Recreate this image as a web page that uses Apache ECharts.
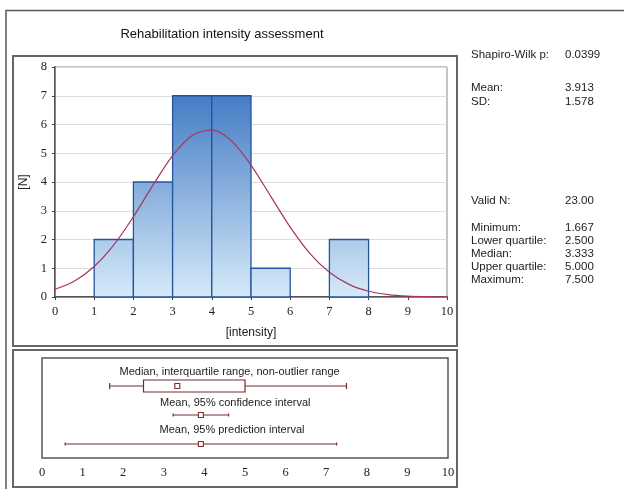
<!DOCTYPE html>
<html>
<head>
<meta charset="utf-8">
<title>Rehabilitation intensity assessment</title>
<script src="https://cdn.jsdelivr.net/npm/echarts@6/dist/echarts.min.js"></script>
<style>
  html, body { margin: 0; padding: 0; background: #fff; }
  #chart { width: 624px; height: 489px; }
</style>
</head>
<body>
<div id="chart"></div>
<script>
// Histogram bins (lower edge, width 1) and their frequencies
const binStarts = [1, 2, 3, 4, 5, 6, 7];
const binCounts = [2, 4, 7, 7, 1, 0, 2];
const binWidth = 1;

// Fitted normal curve, expected frequency per bin
const curveX = [0, 0.5, 1, 1.5, 2, 2.5, 3, 3.5, 4, 4.5, 5, 5.5, 6, 6.5, 7, 7.5, 8, 8.5, 9, 9.5, 10];
const curveY = [0.27, 0.56, 1.06, 1.81, 2.79, 3.89, 4.92, 5.62, 5.81, 5.43, 4.59, 3.51, 2.43, 1.52, 0.86, 0.44, 0.20, 0.085, 0.032, 0.011, 0.003];

// Box summary: min, lower quartile, median, upper quartile, max
const boxSummary = [1.667, 2.5, 3.333, 5.0, 7.5];
// Mean with 95% confidence interval: low, mean, high
const meanConfidence = [3.231, 3.913, 4.595];
// Mean with 95% prediction interval: low, mean, high
const meanPrediction = [0.570, 3.913, 7.256];

// Descriptive statistics panel
const statLabels = ['Shapiro-Wilk p:', 'Mean:', 'SD:', 'Valid N:', 'Minimum:', 'Lower quartile:', 'Median:', 'Upper quartile:', 'Maximum:'];
const statValues = ['0.0399', '3.913', '1.578', '23.00', '1.667', '2.500', '3.333', '5.000', '7.500'];

const rowLabels = ['Median, interquartile range, non-outlier range', 'Mean, 95% confidence interval', 'Mean, 95% prediction interval'];

const SANS = '"Liberation Sans", Arial, sans-serif';
const SERIF = '"Liberation Serif", "Times New Roman", serif';
const BOX_COLOR = '#7a2b2e';

const chart = echarts.init(document.getElementById('chart'), null, { renderer: 'canvas' });

function lerp(a, b, t) { return Math.round(a + (b - a) * t); }
function shade(t) {
  const lo = [214, 234, 249], hi = [68, 124, 196];
  return 'rgb(' + lerp(lo[0], hi[0], t) + ',' + lerp(lo[1], hi[1], t) + ',' + lerp(lo[2], hi[2], t) + ')';
}

const histData = binStarts.map((s, i) => [s, s + binWidth, binCounts[i]]);

// row layout on the hidden vertical axis of the summary panel (0 top .. 100 bottom)
const ROW_Y = [28, 57, 86];
const LABEL_Y = [14, 45, 72];
const LABEL_X = [4.62, 4.76, 4.68];

const statY = [56, 89, 103, 202, 229, 242, 255, 268, 281];
const statGraphics = [];
statLabels.forEach((t, i) => {
  statGraphics.push({ type: 'text', left: 471, top: statY[i] - 7, style: { text: t, font: '11.5px ' + SANS, fill: '#222' } });
  statGraphics.push({ type: 'text', left: 565, top: statY[i] - 7, style: { text: statValues[i], font: '11.5px ' + SANS, fill: '#222' } });
});

const option = {
  animation: false,
  backgroundColor: '#fff',
  title: {
    text: 'Rehabilitation intensity assessment',
    left: 217, top: 23, textAlign: 'center',
    textStyle: { fontFamily: SANS, fontSize: 13, fontWeight: 'normal', color: '#111' }
  },
  graphic: [
    // outer frame
    { type: 'polyline', shape: { points: [[6, 489], [6, 10.5], [624, 10.5]] }, style: { stroke: '#555', lineWidth: 1.5, fill: null }, silent: true },
    // histogram panel
    { type: 'rect', shape: { x: 13, y: 56, width: 444, height: 290 }, style: { stroke: '#666', lineWidth: 2, fill: null }, silent: true },
    // summary panel
    { type: 'rect', shape: { x: 13, y: 350, width: 444, height: 137 }, style: { stroke: '#666', lineWidth: 2, fill: null }, silent: true }
  ].concat(statGraphics),
  grid: [
    { left: 55, top: 67, width: 392, height: 230, show: true, borderColor: '#888', borderWidth: 1 },
    { left: 42, top: 358, width: 406, height: 100, show: true, borderColor: '#555', borderWidth: 1.5 }
  ],
  xAxis: [
    {
      gridIndex: 0, type: 'value', min: 0, max: 10, interval: 1,
      name: '[intensity]', nameLocation: 'middle', nameGap: 30,
      nameTextStyle: { fontFamily: SANS, fontSize: 12, color: '#222' },
      axisLine: { show: true, lineStyle: { color: '#555', width: 2 } },
      axisTick: { show: false },
      axisLabel: { fontFamily: SERIF, fontSize: 12.5, color: '#222', margin: 8 },
      splitLine: { show: false }
    },
    {
      gridIndex: 0, type: 'value', min: 0, max: 10, interval: 1, position: 'top',
      axisLine: { show: true, lineStyle: { color: '#888', width: 1 } },
      axisTick: { show: true, inside: true, length: 3, lineStyle: { color: '#444' } },
      axisLabel: { show: false }, splitLine: { show: false }
    },
    {
      gridIndex: 1, type: 'value', min: 0, max: 10, interval: 1,
      axisLine: { show: false }, axisTick: { show: false },
      axisLabel: { fontFamily: SERIF, fontSize: 12.5, color: '#222', margin: 8 },
      splitLine: { show: false }
    }
  ],
  yAxis: [
    {
      gridIndex: 0, type: 'value', min: 0, max: 8, interval: 1,
      name: '[N]', nameLocation: 'middle', nameGap: 22, nameRotate: 90,
      nameTextStyle: { fontFamily: SANS, fontSize: 12, color: '#222' },
      axisLine: { show: true, lineStyle: { color: '#555', width: 2 } },
      axisTick: { show: true, length: 3, lineStyle: { color: '#555' } },
      axisLabel: { fontFamily: SERIF, fontSize: 12.5, color: '#222', margin: 8 },
      splitLine: { show: true, lineStyle: { color: '#dcdcdc', width: 1 } }
    },
    {
      gridIndex: 0, type: 'value', min: 0, max: 8, interval: 1, position: 'right',
      axisLine: { show: true, lineStyle: { color: '#888', width: 1 } },
      axisTick: { show: true, inside: true, length: 3, lineStyle: { color: '#444' } },
      axisLabel: { show: false }, splitLine: { show: false }
    },
    {
      gridIndex: 1, type: 'value', min: 0, max: 100, inverse: true, show: false
    }
  ],
  series: [
    {
      type: 'custom', name: 'Frequency', xAxisIndex: 0, yAxisIndex: 0,
      data: histData,
      renderItem: function (params, api) {
        const x0 = api.value(0), x1 = api.value(1), c = api.value(2);
        if (!c) return null;
        const tl = api.coord([x0, c]);
        const br = api.coord([x1, 0]);
        return {
          type: 'rect',
          shape: { x: tl[0], y: tl[1], width: br[0] - tl[0], height: br[1] - tl[1] },
          style: {
            fill: { type: 'linear', x: 0, y: 0, x2: 0, y2: 1, colorStops: [
              { offset: 0, color: shade(c / 7) }, { offset: 1, color: shade(0) }
            ] },
            stroke: '#24549e', lineWidth: 1.3
          }
        };
      },
      z: 2
    },
    {
      type: 'line', name: 'Normal', xAxisIndex: 0, yAxisIndex: 0,
      data: curveX.map((x, i) => [x, curveY[i]]),
      smooth: 0.3, showSymbol: false, symbol: 'none',
      lineStyle: { color: '#a8345a', width: 1.2 },
      z: 3
    },
    {
      type: 'custom', name: 'Summary', xAxisIndex: 2, yAxisIndex: 2,
      data: [0, 1, 2],
      renderItem: function (params, api) {
        const i = params.dataIndex;
        const y = api.coord([0, ROW_Y[i]])[1];
        const X = v => api.coord([v, 0])[0];
        const stroke = { stroke: BOX_COLOR, lineWidth: 1.2, fill: null };
        const kids = [];
        const lp = api.coord([LABEL_X[i], LABEL_Y[i]]);
        kids.push({ type: 'text', x: lp[0], y: lp[1], style: { text: rowLabels[i], font: '11px ' + SANS, fill: '#222', align: 'center', verticalAlign: 'middle' } });
        if (i === 0) {
          const [mn, q1, md, q3, mx] = boxSummary;
          kids.push({ type: 'line', shape: { x1: X(mn), y1: y, x2: X(q1), y2: y }, style: stroke });
          kids.push({ type: 'line', shape: { x1: X(q3), y1: y, x2: X(mx), y2: y }, style: stroke });
          kids.push({ type: 'line', shape: { x1: X(mn), y1: y - 3, x2: X(mn), y2: y + 3 }, style: stroke });
          kids.push({ type: 'line', shape: { x1: X(mx), y1: y - 3, x2: X(mx), y2: y + 3 }, style: stroke });
          kids.push({ type: 'rect', shape: { x: X(q1), y: y - 6, width: X(q3) - X(q1), height: 12 }, style: { stroke: BOX_COLOR, lineWidth: 1.2, fill: '#fff' } });
          kids.push({ type: 'rect', shape: { x: X(md) - 2.5, y: y - 2.5, width: 5, height: 5 }, style: { stroke: BOX_COLOR, lineWidth: 1.1, fill: '#fff' } });
        } else {
          const [lo, m, hi] = i === 1 ? meanConfidence : meanPrediction;
          kids.push({ type: 'line', shape: { x1: X(lo), y1: y, x2: X(hi), y2: y }, style: stroke });
          kids.push({ type: 'line', shape: { x1: X(lo), y1: y - 1.5, x2: X(lo), y2: y + 1.5 }, style: stroke });
          kids.push({ type: 'line', shape: { x1: X(hi), y1: y - 1.5, x2: X(hi), y2: y + 1.5 }, style: stroke });
          kids.push({ type: 'rect', shape: { x: X(m) - 2.5, y: y - 2.5, width: 5, height: 5 }, style: { stroke: BOX_COLOR, lineWidth: 1.1, fill: '#fff' } });
        }
        return { type: 'group', children: kids };
      }
    }
  ]
};

chart.setOption(option);
</script>
</body>
</html>
